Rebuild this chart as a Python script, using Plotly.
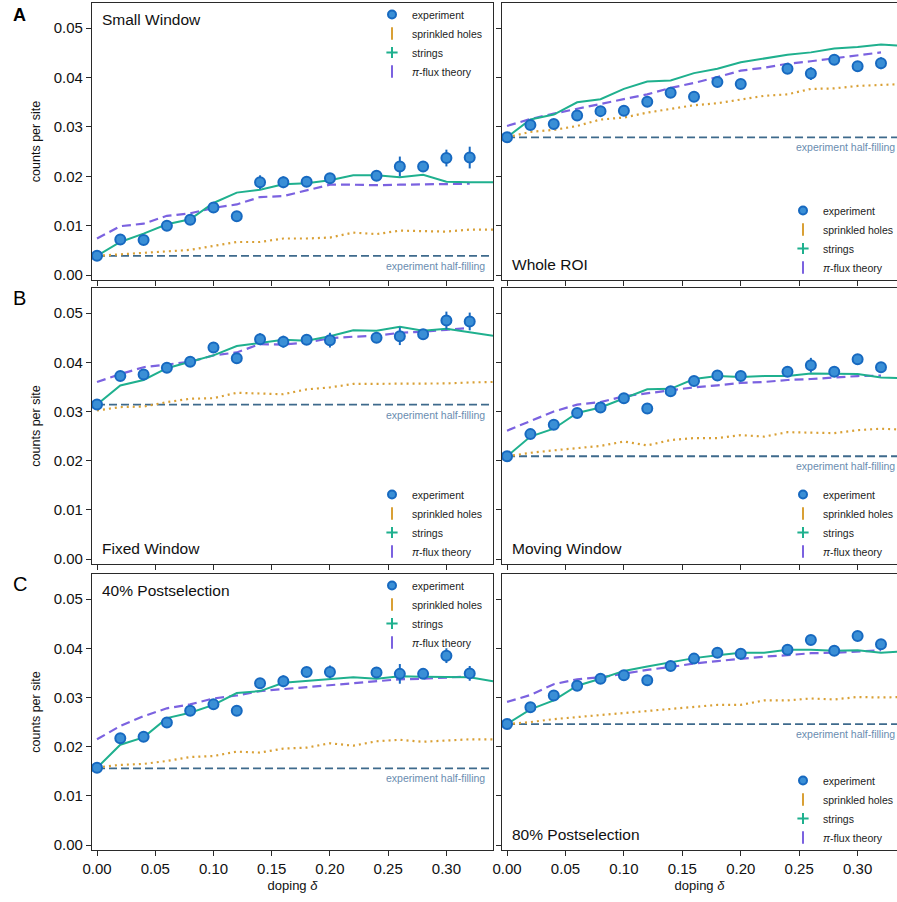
import plotly.graph_objects as go

# ---------------- data ----------------
x_exp = [0.00, 0.02, 0.04, 0.06, 0.08, 0.10, 0.12, 0.14, 0.16, 0.18, 0.20,
         0.24, 0.26, 0.28, 0.30, 0.32]
x_theory = [0.00, 0.02, 0.04, 0.06, 0.08, 0.10, 0.12, 0.14, 0.16, 0.18, 0.20,
            0.22, 0.24, 0.26, 0.28, 0.30, 0.32, 0.34]
x_pi = [0.00, 0.02, 0.04, 0.06, 0.08, 0.10, 0.12, 0.14, 0.16, 0.18, 0.20,
        0.22, 0.24, 0.26, 0.28, 0.30, 0.32]

panel_titles = ["Small Window", "Whole ROI", "Fixed Window", "Moving Window",
                "40% Postselection", "80% Postselection"]
series_names = ["experiment", "sprinkled holes", "strings", "<i>π</i>-flux theory"]
y_ticks = [0.00, 0.01, 0.02, 0.03, 0.04, 0.05]
x_ticks = [0.00, 0.05, 0.10, 0.15, 0.20, 0.25, 0.30]

# Small Window
exp_small = [0.0039, 0.0072, 0.0071, 0.0100, 0.0112, 0.0137, 0.0119, 0.0188, 0.0188,
             0.0189, 0.0196, 0.0201, 0.0220, 0.0220, 0.0237, 0.0238]
err_small = [0.0004, 0.0006, 0.0005, 0.0005, 0.0005, 0.0006, 0.0005, 0.0014, 0.0012,
             0.0006, 0.0010, 0.0007, 0.0020, 0.0010, 0.0017, 0.0022]
str_small = [0.0039, 0.0067, 0.0084, 0.0103, 0.0113, 0.0146, 0.0167, 0.0173, 0.0184,
             0.0186, 0.0192, 0.0202, 0.0202, 0.0198, 0.0203, 0.0189, 0.0188, 0.0188]
spr_small = [0.0039, 0.0042, 0.0044, 0.0047, 0.0051, 0.0059, 0.0067, 0.0067, 0.0074,
             0.0074, 0.0076, 0.0086, 0.0083, 0.0090, 0.0089, 0.0088, 0.0092, 0.0092]
pi_small = [0.0074, 0.0099, 0.0104, 0.0120, 0.0125, 0.0136, 0.0143, 0.0158, 0.0160,
            0.0172, 0.0183, 0.0183, 0.0182, 0.0183, 0.0184, 0.0184, 0.0185]
half_small = 0.0039

# Whole ROI
exp_whole = [0.0279, 0.0304, 0.0306, 0.0323, 0.0332, 0.0333, 0.0351, 0.0369, 0.0361,
             0.0391, 0.0387, 0.0418, 0.0408, 0.0436, 0.0423, 0.0429]
err_whole = [0.0004, 0.0005, 0.0005, 0.0005, 0.0005, 0.0005, 0.0005, 0.0010, 0.0010,
             0.0005, 0.0010, 0.0006, 0.0013, 0.0006, 0.0008, 0.0012]
str_whole = [0.0279, 0.0315, 0.0325, 0.0350, 0.0356, 0.0377, 0.0392, 0.0394, 0.0409,
             0.0418, 0.0431, 0.0438, 0.0446, 0.0451, 0.0459, 0.0462, 0.0467, 0.0464]
spr_whole = [0.0279, 0.0290, 0.0294, 0.0302, 0.0315, 0.0319, 0.0329, 0.0336, 0.0344,
             0.0348, 0.0356, 0.0363, 0.0366, 0.0377, 0.0378, 0.0383, 0.0385, 0.0387]
pi_whole = [0.0302, 0.0316, 0.0327, 0.0337, 0.0346, 0.0356, 0.0366, 0.0379, 0.0389,
            0.0401, 0.0414, 0.0420, 0.0428, 0.0433, 0.0439, 0.0444, 0.0451]
half_whole = 0.0279

# Fixed Window
exp_fixed = [0.0314, 0.0372, 0.0375, 0.0389, 0.0401, 0.0430, 0.0408, 0.0447, 0.0442,
             0.0446, 0.0445, 0.0450, 0.0453, 0.0457, 0.0485, 0.0483]
err_fixed = [0.0004, 0.0010, 0.0006, 0.0005, 0.0005, 0.0006, 0.0006, 0.0012, 0.0012,
             0.0006, 0.0015, 0.0010, 0.0018, 0.0006, 0.0018, 0.0018]
str_fixed = [0.0314, 0.0353, 0.0364, 0.0388, 0.0401, 0.0414, 0.0433, 0.0440, 0.0446,
             0.0444, 0.0453, 0.0465, 0.0464, 0.0472, 0.0464, 0.0468, 0.0461, 0.0454]
spr_fixed = [0.0302, 0.0309, 0.0310, 0.0319, 0.0326, 0.0327, 0.0338, 0.0337, 0.0335,
             0.0345, 0.0349, 0.0356, 0.0356, 0.0356, 0.0357, 0.0357, 0.0359, 0.0360]
pi_fixed = [0.0360, 0.0376, 0.0390, 0.0396, 0.0401, 0.0414, 0.0420, 0.0437, 0.0436,
            0.0440, 0.0449, 0.0452, 0.0454, 0.0460, 0.0462, 0.0466, 0.0470]
half_fixed = 0.0314

# Moving Window
exp_moving = [0.0209, 0.0254, 0.0273, 0.0297, 0.0308, 0.0327, 0.0306, 0.0341, 0.0362,
              0.0373, 0.0372, 0.0381, 0.0394, 0.0381, 0.0406, 0.0390]
err_moving = [0.0004, 0.0006, 0.0005, 0.0005, 0.0005, 0.0005, 0.0005, 0.0006, 0.0010,
              0.0005, 0.0010, 0.0006, 0.0015, 0.0006, 0.0010, 0.0010]
str_moving = [0.0209, 0.0249, 0.0265, 0.0297, 0.0308, 0.0327, 0.0345, 0.0346, 0.0366,
              0.0372, 0.0370, 0.0372, 0.0372, 0.0377, 0.0377, 0.0376, 0.0369, 0.0368]
spr_moving = [0.0209, 0.0216, 0.0221, 0.0226, 0.0230, 0.0239, 0.0231, 0.0242, 0.0246,
              0.0246, 0.0252, 0.0249, 0.0258, 0.0257, 0.0256, 0.0262, 0.0265, 0.0263]
pi_moving = [0.0261, 0.0280, 0.0300, 0.0314, 0.0319, 0.0331, 0.0337, 0.0344, 0.0349,
             0.0353, 0.0358, 0.0360, 0.0364, 0.0366, 0.0369, 0.0372, 0.0373]
half_moving = 0.0209

# 40% Postselection
exp_p40 = [0.0157, 0.0217, 0.0220, 0.0249, 0.0273, 0.0286, 0.0273, 0.0329, 0.0333,
           0.0352, 0.0352, 0.0351, 0.0348, 0.0348, 0.0385, 0.0349]
err_p40 = [0.0004, 0.0008, 0.0005, 0.0005, 0.0005, 0.0005, 0.0005, 0.0010, 0.0012,
           0.0005, 0.0013, 0.0006, 0.0020, 0.0006, 0.0015, 0.0015]
str_p40 = [0.0157, 0.0204, 0.0219, 0.0258, 0.0269, 0.0285, 0.0309, 0.0313, 0.0330,
           0.0334, 0.0337, 0.0341, 0.0338, 0.0343, 0.0342, 0.0341, 0.0341, 0.0333]
spr_p40 = [0.0158, 0.0163, 0.0165, 0.0171, 0.0179, 0.0181, 0.0190, 0.0188, 0.0196,
           0.0198, 0.0207, 0.0202, 0.0211, 0.0214, 0.0210, 0.0212, 0.0215, 0.0215]
pi_p40 = [0.0215, 0.0242, 0.0262, 0.0278, 0.0286, 0.0298, 0.0304, 0.0313, 0.0317,
          0.0321, 0.0326, 0.0329, 0.0333, 0.0337, 0.0338, 0.0341, 0.0343]
half_p40 = 0.0156

# 80% Postselection
exp_p80 = [0.0246, 0.0280, 0.0304, 0.0324, 0.0338, 0.0345, 0.0335, 0.0364, 0.0379,
           0.0391, 0.0389, 0.0397, 0.0417, 0.0395, 0.0425, 0.0408]
err_p80 = [0.0004, 0.0005, 0.0005, 0.0005, 0.0005, 0.0005, 0.0005, 0.0005, 0.0005,
           0.0005, 0.0006, 0.0006, 0.0010, 0.0005, 0.0010, 0.0010]
str_p80 = [0.0246, 0.0276, 0.0294, 0.0324, 0.0338, 0.0354, 0.0363, 0.0372, 0.0380,
           0.0386, 0.0391, 0.0391, 0.0397, 0.0397, 0.0395, 0.0396, 0.0391, 0.0394]
spr_p80 = [0.0246, 0.0250, 0.0256, 0.0260, 0.0264, 0.0269, 0.0273, 0.0276, 0.0281,
           0.0285, 0.0285, 0.0294, 0.0294, 0.0298, 0.0296, 0.0301, 0.0300, 0.0301]
pi_p80 = [0.0291, 0.0305, 0.0327, 0.0337, 0.0341, 0.0349, 0.0356, 0.0362, 0.0369,
          0.0374, 0.0379, 0.0383, 0.0386, 0.0390, 0.0391, 0.0394, 0.0396]
half_p80 = 0.0246

panels = [
    (exp_small, err_small, str_small, spr_small, pi_small, half_small),
    (exp_whole, err_whole, str_whole, spr_whole, pi_whole, half_whole),
    (exp_fixed, err_fixed, str_fixed, spr_fixed, pi_fixed, half_fixed),
    (exp_moving, err_moving, str_moving, spr_moving, pi_moving, half_moving),
    (exp_p40, err_p40, str_p40, spr_p40, pi_p40, half_p40),
    (exp_p80, err_p80, str_p80, spr_p80, pi_p80, half_p80),
]

# ---------------- style ----------------
FONT = "Liberation Sans, Arial, Helvetica, sans-serif"
C_EXP = "#3a8fd6"
C_EXP_EDGE = "#1769c0"
C_SPR = "#d9a035"
C_STR = "#1fb08e"
C_PI = "#7b62e0"
C_HALF = "#3e6a8c"
C_HALF_TXT = "#6a8db0"
AX = "#2a2a2a"

W, H = 897, 902
ML, MR, MT, MB = 92, 0, 3, 52
PW, PH = W - ML - MR, H - MT - MB

def px_x(p):
    return (p - ML) / PW

def px_y(p):
    return (H - MB - p) / PH

col_dom = [(px_x(92), px_x(493)), (px_x(502), 1.0)]
row_dom = [(px_y(280), px_y(3)), (px_y(564), px_y(288)), (px_y(850), px_y(574))]
row_top_px = [3, 288, 574]
row_bot_px = [280, 564, 850]
title_top = [True, False, False, False, True, False]
legend_top = [True, False, False, False, True, False]

fig = go.Figure()
layout = {}
annotations = []

for i, (ev, ee, sv, spv, piv, hv) in enumerate(panels):
    r, c = divmod(i, 2)
    n = i + 1
    xa = "x" if n == 1 else f"x{n}"
    ya = "y" if n == 1 else f"y{n}"
    xk = "xaxis" if n == 1 else f"xaxis{n}"
    yk = "yaxis" if n == 1 else f"yaxis{n}"
    lg = "legend" if n == 1 else f"legend{n}"

    # half-filling reference
    fig.add_trace(go.Scatter(x=[x_theory[0], x_theory[-1] + 0.02], y=[hv, hv], mode="lines",
                             line=dict(color=C_HALF, width=1.8, dash="8px,4px"),
                             xaxis=xa, yaxis=ya, showlegend=False, hoverinfo="skip"))
    # sprinkled holes
    fig.add_trace(go.Scatter(x=x_theory, y=spv, mode="lines",
                             line=dict(color=C_SPR, width=2.2, dash="2px,4px"),
                             xaxis=xa, yaxis=ya, showlegend=False))
    # pi-flux
    fig.add_trace(go.Scatter(x=x_pi, y=piv, mode="lines",
                             line=dict(color=C_PI, width=2.2, dash="9px,5px"),
                             xaxis=xa, yaxis=ya, showlegend=False))
    # strings
    fig.add_trace(go.Scatter(x=x_theory, y=sv, mode="lines",
                             line=dict(color=C_STR, width=2),
                             xaxis=xa, yaxis=ya, showlegend=False))
    # experiment
    fig.add_trace(go.Scatter(x=x_exp, y=ev, mode="markers",
                             marker=dict(color=C_EXP, size=10,
                                         line=dict(color=C_EXP_EDGE, width=2)),
                             error_y=dict(type="data", array=ee, visible=True,
                                          color=C_EXP_EDGE, thickness=2, width=0),
                             xaxis=xa, yaxis=ya, showlegend=False))

    # legend entries
    leg_specs = [
        dict(symbol="circle", color=C_EXP, size=8, line=dict(color=C_EXP_EDGE, width=2)),
        dict(symbol="line-ns-open", color=C_SPR, size=9, line=dict(color=C_SPR, width=2)),
        dict(symbol="cross-thin-open", color=C_STR, size=8, line=dict(color=C_STR, width=2)),
        dict(symbol="line-ns-open", color=C_PI, size=9, line=dict(color=C_PI, width=2)),
    ]
    for name, mk in zip(series_names, leg_specs):
        fig.add_trace(go.Scatter(x=[None], y=[None], mode="markers", name=name,
                                 marker=mk, legend=lg, xaxis=xa, yaxis=ya))

    lx = px_x(372) if c == 0 else px_x(783)
    if legend_top[i]:
        leg = dict(x=lx, y=px_y(row_top_px[r] - 3), xanchor="left", yanchor="top")
    else:
        leg = dict(x=lx, y=px_y(row_bot_px[r] + 2), xanchor="left", yanchor="bottom")
    leg.update(bgcolor="rgba(0,0,0,0)", borderwidth=0, tracegroupgap=0,
               font=dict(family=FONT, size=10.5, color="#222"), itemwidth=30)
    layout[lg] = leg

    bottom = (r == 2)
    layout[xk] = dict(domain=list(col_dom[c]), range=[-0.0043, 0.34 if c == 0 else 0.3337],
                      anchor=ya, showline=True, linecolor=AX, linewidth=1.3, mirror=True,
                      ticks="outside", ticklen=5, tickwidth=1.2, tickcolor=AX,
                      tickvals=x_ticks, tickformat=".2f", showticklabels=bottom,
                      showgrid=False, zeroline=False,
                      tickfont=dict(family=FONT, size=15, color="#111"))
    if bottom:
        layout[xk]["title"] = dict(text="doping <i>δ</i>", standoff=4,
                                   font=dict(family=FONT, size=13, color="#111"))
    layout[yk] = dict(domain=list(row_dom[r]), range=[-0.001, 0.0551], anchor=xa,
                      showline=True, linecolor=AX, linewidth=1.3, mirror=True,
                      ticks="outside", ticklen=5, tickwidth=1.2, tickcolor=AX,
                      tickvals=y_ticks, tickformat=".2f", showticklabels=(c == 0),
                      showgrid=False, zeroline=False,
                      tickfont=dict(family=FONT, size=15, color="#111"))
    if c == 0:
        layout[yk]["title"] = dict(text="counts per site", standoff=10,
                                   font=dict(family=FONT, size=12.5, color="#111"))

    # half-filling label
    annotations.append(dict(text="experiment half-filling", xref=f"{xa} domain", yref=ya,
                            x=0.985 if c == 0 else 1.0, y=hv, xanchor="right", yanchor="middle",
                            yshift=-10, showarrow=False,
                            font=dict(family=FONT, size=10.5, color=C_HALF_TXT)))
    # panel title
    annotations.append(dict(text=panel_titles[i], xref=f"{xa} domain", yref=f"{ya} domain",
                            x=0.02, y=0.94 if title_top[i] else 0.055,
                            xanchor="left", yanchor="middle", showarrow=False,
                            font=dict(family=FONT, size=15.5, color="#111")))

# panel letters
for letter, ypx, bold, size in [("A", 15, True, 18), ("B", 298, False, 20), ("C", 584, False, 20)]:
    annotations.append(dict(text=f"<b>{letter}</b>" if bold else letter, xref="paper",
                            yref="paper", x=px_x(11), y=px_y(ypx), xanchor="left",
                            yanchor="middle", showarrow=False,
                            font=dict(family=FONT, size=size, color="#000")))

fig.update_layout(
    width=W, height=H,
    margin=dict(l=ML, r=MR, t=MT, b=MB, autoexpand=False),
    paper_bgcolor="white", plot_bgcolor="white",
    font=dict(family=FONT, color="#111"),
    annotations=annotations,
    **layout,
)

fig.write_html("out.html")
